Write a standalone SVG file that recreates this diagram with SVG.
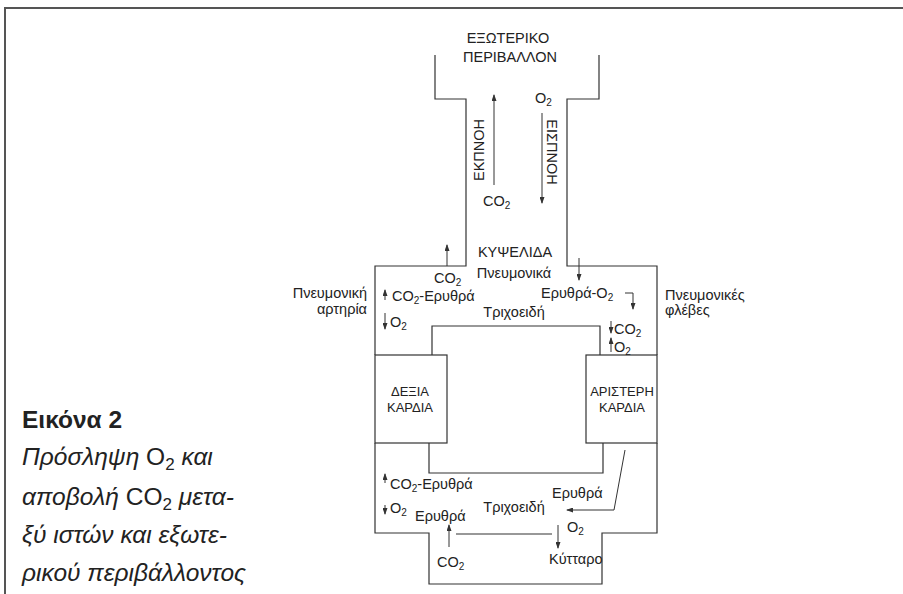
<svg xmlns="http://www.w3.org/2000/svg" width="903" height="594" viewBox="0 0 903 594">
<style>
.ln{fill:none;stroke:#333;stroke-width:1.2}
.ar{fill:none;stroke:#333;stroke-width:1;marker-end:url(#ah)}
.t{font-family:"Liberation Sans",Arial,sans-serif;font-size:14.5px;fill:#222}
.h{font-size:13px}
.c{text-anchor:middle}
.s{font-size:10px}
.cap{font-family:"Liberation Sans",Arial,sans-serif;font-size:24.5px;fill:#222}
.up{font-style:normal}
</style>
<defs>
<marker id="ah" markerUnits="userSpaceOnUse" markerWidth="7" markerHeight="5" refX="6" refY="2.5" orient="auto">
<path d="M0,0 L7,2.5 L0,5 z" fill="#333"/>
</marker>
</defs>
<rect width="903" height="594" fill="#fff"/>
<path d="M5,594 V8 H903" fill="none" stroke="#555" stroke-width="2"/>
<g id="vessels">
<path class="ln" d="M435,55 V99 H466 V266 H375 V355"/>
<path class="ln" d="M599,55 V99 H567 V266 H657 V355"/>
<path class="ln" d="M432,355 V326 H600 V355"/>
<path class="ln" d="M375,443 V533 H429 V584 H602 V533 H657 V443"/>
<path class="ln" d="M429,443 V473 H603 V443"/>
<path class="ln" d="M456,534 H552"/>
</g>
<g id="environment">
<text class="t c" x="508" y="43">ΕΞΩΤΕΡΙΚΟ</text>
<text class="t c" x="510" y="62">ΠΕΡΙΒΑΛΛΟΝ</text>
</g>
<g id="alveolus">
<text class="t c" x="515" y="257">ΚΥΨΕΛΙΔΑ</text>
</g>
<g id="right-heart">
<rect class="ln" x="375" y="355" width="72" height="88"/>
<text class="t h c" x="410" y="396">ΔΕΞΙΑ</text>
<text class="t h c" x="410" y="412">ΚΑΡΔΙΑ</text>
</g>
<g id="left-heart">
<rect class="ln" x="586" y="355" width="71" height="88"/>
<text class="t h c" x="622" y="396">ΑΡΙΣΤΕΡΗ</text>
<text class="t h c" x="622" y="412">ΚΑΡΔΙΑ</text>
</g>
<g id="cell">
<text class="t" x="549" y="564">Κύτταρο</text>
</g>
<g id="connectors">
<path class="ar" d="M494,185 V95"/>
<path class="ar" d="M542,113 V203"/>
<path class="ar" d="M447,266 V245"/>
<path class="ar" d="M579,258 V280"/>
<path class="ar" d="M625,293 H633 V309"/>
<path class="ar" d="M385,300 V290"/>
<path class="ar" d="M385,313 V329"/>
<path class="ar" d="M611,321 V333"/>
<path class="ar" d="M611,352 V338"/>
<path class="ar" d="M385,483 V474"/>
<path class="ar" d="M385,505 V514"/>
<path class="ar" d="M449,547 V525"/>
<path class="ar" d="M558,525 V548"/>
<path class="ar" d="M625,450 L614,510 H567"/>
</g>
<g id="labels">
<text class="t" x="535" y="103">O<tspan class="s" dy="3">2</tspan></text>
<text class="t c" transform="translate(484,150) rotate(-90)">ΕΚΠΝΟΗ</text>
<text class="t c" transform="translate(547,152) rotate(90)">ΕΙΣΠΝΟΗ</text>
<text class="t" x="483" y="206">CO<tspan class="s" dy="3">2</tspan></text>
<text class="t" x="434" y="283">CO<tspan class="s" dy="3">2</tspan></text>
<text class="t c" x="514" y="278">Πνευμονικά</text>
<text class="t" x="392" y="301">CO<tspan class="s" dy="3">2</tspan><tspan dy="-3">-Ερυθρά</tspan></text>
<text class="t" x="390" y="327">O<tspan class="s" dy="3">2</tspan></text>
<text class="t c" x="514" y="317">Τριχοειδή</text>
<text class="t" x="541" y="298">Ερυθρά-O<tspan class="s" dy="3">2</tspan></text>
<text class="t" x="614" y="334">CO<tspan class="s" dy="3">2</tspan></text>
<text class="t" x="614" y="352">O<tspan class="s" dy="3">2</tspan></text>
<text class="t" x="367" y="298" text-anchor="end">Πνευμονική</text>
<text class="t" x="367" y="314" text-anchor="end">αρτηρία</text>
<text class="t" x="665" y="300">Πνευμονικές</text>
<text class="t" x="665" y="315">φλέβες</text>
<text class="t" x="390" y="489">CO<tspan class="s" dy="3">2</tspan><tspan dy="-3">-Ερυθρά</tspan></text>
<text class="t" x="390" y="513">O<tspan class="s" dy="3">2</tspan></text>
<text class="t c" x="514" y="512">Τριχοειδή</text>
<text class="t" x="415" y="521">Ερυθρά</text>
<text class="t" x="437" y="567">CO<tspan class="s" dy="3">2</tspan></text>
<text class="t" x="552" y="498">Ερυθρά</text>
<text class="t" x="567" y="532">O<tspan class="s" dy="3">2</tspan></text>
</g>
<g id="caption">
<text class="cap" x="22" y="428" font-weight="bold" font-size="20">Εικόνα 2</text>
<text class="cap" x="22" y="465" font-style="italic">Πρόσληψη <tspan class="up">O</tspan><tspan class="up" font-size="17" dy="5">2</tspan><tspan dy="-5"> και</tspan></text>
<text class="cap" x="22" y="505" font-style="italic">αποβολή <tspan class="up">CO</tspan><tspan class="up" font-size="17" dy="5">2</tspan><tspan dy="-5"> μετα-</tspan></text>
<text class="cap" x="22" y="543" font-style="italic">ξύ ιστών και εξωτε-</text>
<text class="cap" x="22" y="581" font-style="italic">ρικού περιβάλλοντος</text>
</g>
</svg>
